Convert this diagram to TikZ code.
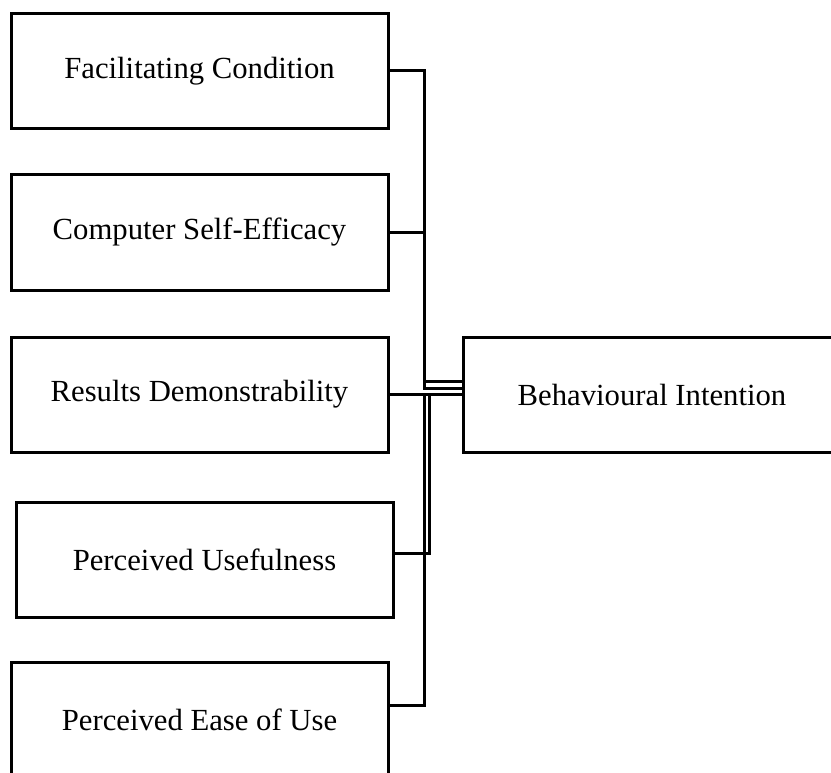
\documentclass[tikz,border=0pt]{standalone}
\usepackage{fontspec}
\setmainfont{Liberation Serif}
\begin{document}
\begin{tikzpicture}[x=1pt,y=-1pt,
  box/.style={draw, rectangle, line width=3pt, minimum width=377pt, minimum height=115pt, inner sep=0pt, font=\fontsize{30.7}{36}\selectfont},
  conn/.style={line width=3pt}]
\clip (0,0) rectangle (831,773);
\fill[white] (0,0) rectangle (831,773);
\node[box] (fc)  at (199.5,71)    {\raisebox{-2pt}{Facilitating Condition}};
\node[box] (cse) at (199.5,232.5) {\raisebox{-2pt}{Computer Self-Efficacy}};
\node[box] (rd)  at (199.5,394.5) {\raisebox{-2pt}{Results Demonstrability}};
\node[box] (pu)  at (204.5,559.5) {\raisebox{-2pt}{Perceived Usefulness}};
\node[box] (peu) at (199.5,719.5) {\raisebox{-2pt}{Perceived Ease of Use}};
\node[box, minimum width=400pt] (bi) at (663,394.5) {\raisebox{-2pt}{Behavioural Intention}\rule{22pt}{0pt}};
\coordinate (j1) at (424,395);
\coordinate (j2) at (429,395);
\draw[conn] (fc.east) -- (424,71) -- (424,388) -- (bi.west |- 0,388);
\draw[conn] (cse.east) -- (424,232.5) -- (424,381) -- (bi.west |- 0,381);
\draw[conn] (rd.east) -- (bi.west);
\draw[conn] (pu.east |- 0,553) -- (429,553) -- (j2);
\draw[conn] (peu.east |- 0,705) -- (424,705) -- (j1);
\end{tikzpicture}
\end{document}
